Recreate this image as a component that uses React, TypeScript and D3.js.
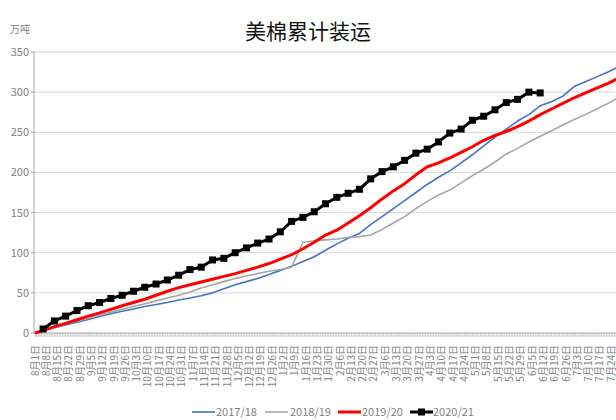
import React from "react";
import * as d3 from "d3";

const title = "美棉累计装运";
const unitLabel = "万吨";
const seriesNames = ["2017/18", "2018/19", "2019/20", "2020/21"];
const yTicks = [0, 50, 100, 150, 200, 250, 300, 350];

// weekly points: week i is 5 + 7*i days after 8月1日
const s1718 = [3, 6.5, 10, 13.5, 17, 20.5, 24, 27, 30, 33, 35.5, 38, 41, 43.5, 46.5, 50, 55, 60, 64, 68, 73, 78, 83, 89, 95, 103, 111, 118, 124, 135, 145, 155, 165, 175, 185, 194, 202, 212, 222, 233, 244, 254, 264, 272, 283, 288, 295, 307, 313, 319, 325, 332];
const s1819 = [3, 7, 11, 15, 18.5, 22, 26, 29.5, 33, 36.5, 40, 43.5, 47, 51, 56, 60, 64, 68, 71, 74, 77, 79, 82, 113, 115, 116, 117, 119, 120, 122, 129, 137, 145, 155, 164, 172, 178, 187, 196, 204, 213, 223, 230, 238, 245, 252, 259, 266, 272, 279, 286, 294];
const s1920 = [3, 8, 12, 16.5, 21, 25, 29.5, 34, 38, 42, 47, 52, 56.5, 60, 63.5, 67, 70.5, 74, 78, 82, 86.5, 92, 97.5, 105, 113, 122, 128, 137, 146, 156, 167, 177, 186, 197, 207, 212, 218, 225, 232, 240, 246, 251, 257, 264, 272, 279, 286, 293, 299, 305, 311, 318];
const s2021 = [5, 15, 21, 28, 34, 38, 43, 47, 52, 57, 61, 66, 72, 79, 82, 91, 93, 100, 106, 112, 117, 126, 139, 144, 151, 161, 169, 174, 179, 192, 201, 207, 215, 224, 229, 238, 249, 254, 265, 270, 278, 287, 291, 300, 299];

const colors = ["#4472C4", "#A5A5A5", "#FF0000", "#000000"];
const widths = [1.6, 1.6, 3, 3];

const start = new Date(2020, 7, 1);
const end = new Date(2021, 6, 31);

export default function App() {
  const W = 616, H = 420;
  const x0 = 35;
  const pxPerDay = 1.614;
  const x = d3.scaleTime().domain([start, d3.timeDay.offset(start, 380)]).range([x0, x0 + 380 * pxPerDay]);
  const y = d3.scaleLinear().domain([0, 350]).range([333, 52]);

  const weekDate = (i: number) => d3.timeDay.offset(start, 5 + 7 * i);
  const labelDates = d3.timeDay.range(start, d3.timeDay.offset(start, 358), 7);
  const dayTicks = d3.timeDay.range(start, end);

  const line = d3.line<[Date, number]>().x(d => x(d[0])).y(d => y(d[1]));
  const mk = (arr: number[], withZero: boolean): [Date, number][] => {
    const pts: [Date, number][] = arr.map((v, i) => [weekDate(i), v]);
    return withZero ? ([[start, 0] as [Date, number]]).concat(pts) : pts;
  };
  const all = [mk(s1718, true), mk(s1819, true), mk(s1920, true), mk(s2021, false)];

  const font = "'Liberation Sans Narrow', 'Noto Sans CJK SC', sans-serif";
  const legendItems = [
    { x: 192, tx: 216 },
    { x: 265, tx: 290 },
    { x: 338, tx: 362 },
    { x: 410, tx: 433 },
  ];

  return (
    <svg width={W} height={H} style={{ position: "absolute", left: 0, top: 0, display: "block", background: "#fff" }} fontFamily={font}>
      <defs>
        <clipPath id="clip">
          <rect x={0} y={40} width={W} height={300} />
        </clipPath>
      </defs>
      <text x={308} y={39} textAnchor="middle" fontSize={21} fontFamily="'Noto Sans CJK SC', sans-serif" fill="#111">{title}</text>
      <text x={10} y={33} fontSize={10} fill="#7f7f7f" fontFamily="'Noto Sans CJK SC', sans-serif">{unitLabel}</text>
      {yTicks.map(t => (
        <g key={t}>
          {t > 0 && <line x1={x0} x2={W} y1={y(t)} y2={y(t)} stroke="#D9D9D9" strokeWidth={1} />}
          <line x1={x0 - 4} x2={x0} y1={y(t)} y2={y(t)} stroke="#A6A6A6" />
          <text x={x0 - 6} y={y(t) + 4} textAnchor="end" fontSize={11} fill="#7f7f7f">{t}</text>
        </g>
      ))}
      <line x1={x0 - 1} x2={x0 - 1} y1={y(350)} y2={y(0)} stroke="#A6A6A6" />
      <line x1={x0} x2={W} y1={y(0)} y2={y(0)} stroke="#A6A6A6" />
      {dayTicks.map((d, i) => (
        <line key={i} x1={x(d)} x2={x(d)} y1={y(0)} y2={y(0) + 4} stroke="#BFBFBF" strokeWidth={0.8} />
      ))}
      {labelDates.map((d, i) => (
        <text key={i} transform={`translate(${x(d) + 3.5},345) rotate(-90)`} textAnchor="end" fontSize={10} fill="#7f7f7f">
          {`${d.getMonth() + 1}月${d.getDate()}日`}
        </text>
      ))}
      <g clipPath="url(#clip)">
        {all.map((pts, k) => (
          <path key={k} d={line(pts) || ""} fill="none" stroke={colors[k]} strokeWidth={widths[k]} strokeLinejoin="round" />
        ))}
        {all[3].map((p, i) => (
          <rect key={i} x={x(p[0]) - 3.5} y={y(p[1]) - 3.5} width={7} height={7} fill="#000" />
        ))}
      </g>
      {legendItems.map((it, k) => (
        <g key={k}>
          <line x1={it.x} x2={it.x + 23} y1={412} y2={412} stroke={colors[k]} strokeWidth={widths[k]} />
          {k === 3 && <rect x={it.x + 8} y={408.5} width={7} height={7} fill="#000" />}
          <text x={it.tx} y={416} fontSize={11} fill="#7f7f7f">{seriesNames[k]}</text>
        </g>
      ))}
    </svg>
  );
}
